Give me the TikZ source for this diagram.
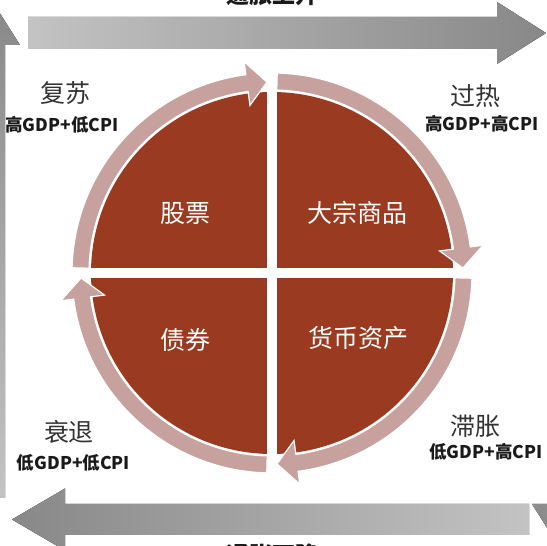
\documentclass[tikz,border=0pt]{standalone}
\usepackage{fontspec}
\newfontfamily\cjk{Noto Sans CJK SC}
\definecolor{fillred}{HTML}{9A3A20}
\definecolor{ringpink}{HTML}{C6A19E}
\definecolor{arrlight}{HTML}{C3C3C3}
\definecolor{arrdark}{HTML}{888888}
\definecolor{phasegray}{HTML}{333333}
\definecolor{condblack}{HTML}{1A1A1A}
\tikzset{
  inner/.style={text=white,font=\cjk\fontsize{25}{30}\selectfont,inner sep=0pt},
  phase/.style={text=phasegray,font=\cjk\fontsize{25}{30}\selectfont,inner sep=0pt},
  cond/.style={text=condblack,font=\cjk\bfseries\fontsize{17.5}{21}\selectfont,inner sep=0pt},
  axislabel/.style={text=condblack,font=\cjk\bfseries\fontsize{23}{27}\selectfont,inner sep=0pt},
  ringarrow/.style={fill=ringpink,draw=white,line width=1.2pt,line join=miter},
}
\begin{document}
\begin{tikzpicture}[x=1pt,y=1pt]
\useasboundingbox (0,0) rectangle (547,546);
\clip (0,0) rectangle (547,546);
% big gray arrows
\fill[left color=arrlight,right color=arrdark]
  (28,497) -- (497,497) -- (497,482) -- (546,513) -- (497,544) -- (497,529) -- (28,529) -- cycle;
\fill[left color=arrdark,right color=arrlight]
  (529,11) -- (65,11) -- (65,-4.5) -- (12,26.5) -- (65,57.5) -- (65,42) -- (529,42) -- cycle;
\fill[top color=arrdark,bottom color=arrlight]
  (-27,48) -- (-27,501) -- (-42,501) -- (-11,550) -- (20,501) -- (5,501) -- (5,48) -- cycle;
\fill[top color=arrlight,bottom color=arrdark]
  (547,500) -- (547,42) -- (532,42) -- (563,-7) -- (594,42) -- (579,42) -- (579,500) -- cycle;
\node[axislabel] (up) at (272,551) {通胀上升};
\node[axislabel] (down) at (272,-9) {通胀下降};
% central disc
\fill[fillred] (272,273) circle (181);
\fill[white] (267,80) rectangle (277,470);
\fill[white] (80,268) rectangle (470,278);
% ring arrows
\foreach \r in {0,-90,-180,-270}{
  \begin{scope}[shift={(272,273)},rotate=\r]
    \path[ringarrow] (178.5:200) arc[start angle=178.5,end angle=97.5,radius=200]
      -- (97.5:213) -- (91.5:191) -- (97.5:169) -- (97.5:183)
      arc[start angle=97.5,end angle=178.5,radius=183] -- cycle;
  \end{scope}
}
% quadrant labels
\node[inner] (stock) at (185,333) {股票};
\node[inner] (comm) at (357,333) {大宗商品};
\node[inner] (bond) at (185,206) {债券};
\node[inner] (cash) at (358,208) {货币资产};
% phase labels
\node[phase] (recov) at (65,452.5) {复苏};
\node[cond] (recovc) at (62,421) {高GDP+低CPI};
\node[phase] (over) at (475,450) {过热};
\node[cond] (overc) at (482,422) {高GDP+高CPI};
\node[phase] (reces) at (69,114) {衰退};
\node[cond] (recesc) at (73.5,83) {低GDP+低CPI};
\node[phase] (stag) at (475,120) {滞胀};
\node[cond] (stagc) at (486,94) {低GDP+高CPI};
\end{tikzpicture}
\end{document}
